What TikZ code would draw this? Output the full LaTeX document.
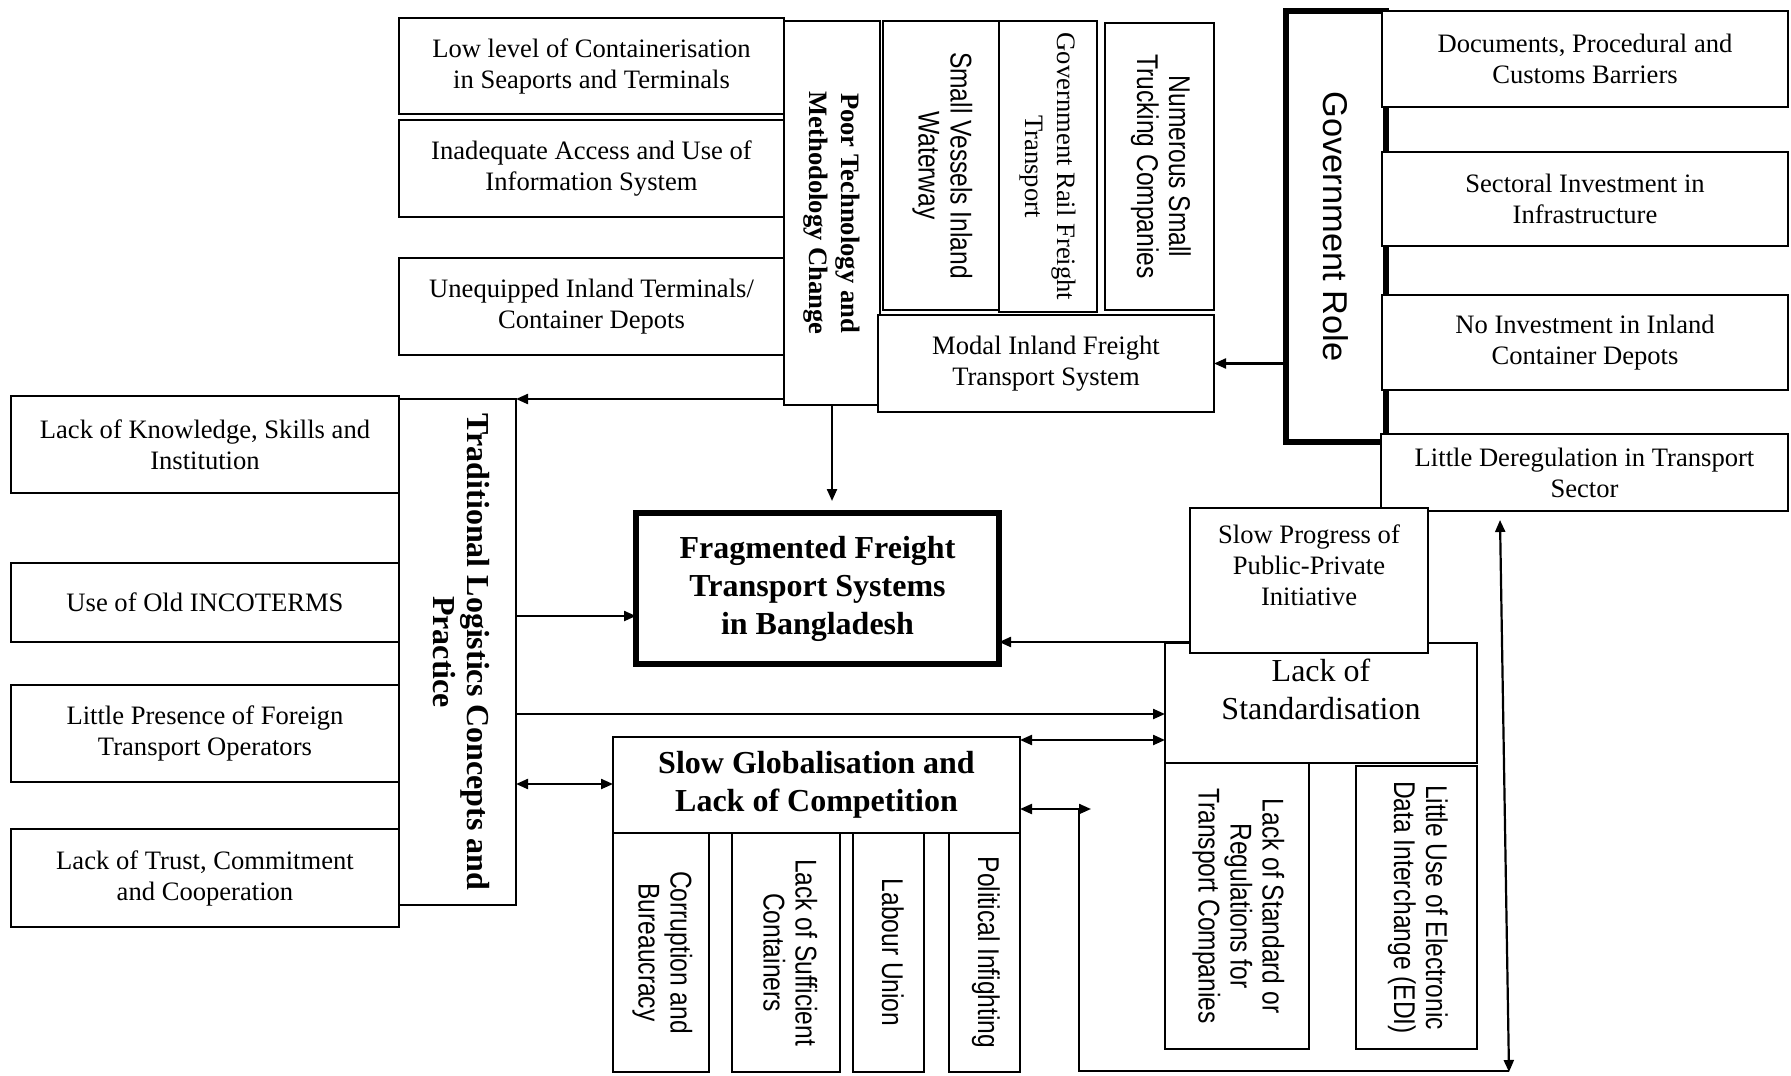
\documentclass[tikz,border=0pt]{standalone}
\usepackage{graphicx}
\usepackage{fontspec}
\setmainfont{Liberation Serif}
\newfontfamily\narrowsf[FakeStretch=0.82]{Liberation Sans}
\newfontfamily\plainsf{Liberation Sans}
\usetikzlibrary{arrows.meta}

% text set sideways, reading downwards
\newcommand\vlabel[1]{\rotatebox[origin=c]{-90}{\begin{tabular}{@{}c@{}}#1\end{tabular}}}
% box given by its corners (x1,y1) (x2,y2) in pixel units
\newcommand\pxbox[7]{%
  \node[#6, minimum width={(#4-#2)*0.5pt}, minimum height={(#5-#3)*0.5pt}]
    (#1) at ({(#2+#4)/2},{(#3+#5)/2}) {#7};}

\tikzset{
  box/.style={draw, line width=1.1pt, fill=white, inner sep=0pt, outer sep=0pt,
    align=center, font=\fontsize{13.3}{15.5}\selectfont},
  heavybox/.style={box, line width=2.6pt},
  vbold/.style={font=\bfseries\fontsize{13.3}{16}\selectfont},
  vsans/.style={font=\narrowsf\fontsize{15}{16}\selectfont},
  vserif/.style={font=\fontsize{13.3}{16}\selectfont},
  wire/.style={line width=1.1pt},
  link/.style={wire, -{Triangle[length=6pt,width=5pt]}},
  link2/.style={wire, {Triangle[length=6pt,width=5pt]}-{Triangle[length=6pt,width=5pt]}}
}

\begin{document}
\begin{tikzpicture}[x=0.5pt, y=-0.5pt]
\fill[white] (0,0) rectangle (1791,1075);
\useasboundingbox (0,0) rectangle (1791,1075);

% technology group
\pxbox{lowlevel}{399}{18}{784}{114}{box}{Low level of Containerisation\\in Seaports and Terminals}
\pxbox{infosys}{399}{120}{784}{217}{box}{Inadequate Access and Use of\\Information System}
\pxbox{terminals}{399}{258}{784}{355}{box}{Unequipped Inland Terminals/\\Container Depots}
\pxbox{poortech}{784}{21}{880}{405}{box,vbold}{\vlabel{Poor Technology and\\Methodology Change}}

% modal transport group
\pxbox{vessels}{883}{21}{999}{310}{box,vsans}{\vlabel{Small Vessels Inland\\Waterway}}
\pxbox{rail}{999}{21}{1097}{312}{box,vserif}{\vlabel{Government Rail Freight\\Transport}}
\pxbox{trucking}{1105}{23}{1214}{310}{box,vsans}{\vlabel{Numerous Small\\Trucking Companies}}
\pxbox{modal}{878}{315}{1214}{412}{box}{Modal Inland Freight\\Transport System}

% government group
\pxbox{govrole}{1286}{11}{1386}{442}{heavybox, font=\plainsf\fontsize{17.2}{20}\selectfont}{\rotatebox{-90}{Government Role}}
\pxbox{documents}{1382}{11}{1788}{107}{box}{Documents, Procedural and\\Customs Barriers}
\pxbox{sectoral}{1382}{152}{1788}{246}{box}{Sectoral Investment in\\Infrastructure}
\pxbox{noinvest}{1382}{295}{1788}{390}{box}{No Investment in Inland\\Container Depots}
\pxbox{dereg}{1381}{434}{1788}{511}{box}{Little Deregulation in Transport\\Sector}

% logistics practice group
\pxbox{traditional}{399}{399}{516}{905}{box, font=\bfseries\fontsize{16}{17}\selectfont}{\vlabel{Traditional Logistics Concepts and\\Practice}}
\pxbox{knowledge}{11}{396}{399}{493}{box}{Lack of Knowledge, Skills and\\Institution}
\pxbox{incoterms}{11}{563}{399}{642}{box}{Use of Old INCOTERMS}
\pxbox{foreign}{11}{685}{399}{782}{box}{Little Presence of Foreign\\Transport Operators}
\pxbox{trust}{11}{829}{399}{927}{box}{Lack of Trust, Commitment\\and Cooperation}

% central problem
\pxbox{fragmented}{636}{513}{999}{664}{heavybox, font=\bfseries\fontsize{16}{19}\selectfont}{Fragmented Freight\\Transport Systems\\in Bangladesh}

% standardisation group
\pxbox{lackstd}{1165}{643}{1477}{763}{box, text depth=14pt, font=\fontsize{16}{19}\selectfont}{Lack of\\Standardisation}
\pxbox{ppp}{1190}{508}{1428}{653}{box, text depth=15pt}{Slow Progress of\\Public-Private\\Initiative}
\pxbox{regulations}{1165}{763}{1309}{1049}{box,vsans}{\vlabel{Lack of Standard or\\Regulations for\\Transport Companies}}
\pxbox{edi}{1356}{766}{1477}{1049}{box,vsans}{\vlabel{Little Use of Electronic\\Data Interchange (EDI)}}

% globalisation group
\pxbox{globalisation}{613}{737}{1020}{833}{box, font=\bfseries\fontsize{16}{18.8}\selectfont}{Slow Globalisation and\\Lack of Competition}
\pxbox{corruption}{613}{833}{709}{1072}{box,vsans}{\vlabel{Corruption and\\Bureaucracy}}
\pxbox{containers}{732}{833}{840}{1072}{box,vsans}{\vlabel{Lack of Sufficient\\Containers}}
\pxbox{labour}{853}{833}{924}{1072}{box,vsans}{\vlabel{Labour Union}}
\pxbox{infighting}{949}{833}{1020}{1072}{box,vsans}{\vlabel{Political Infighting}}

% routing levels
\coordinate (fragIn) at ([yshift=-13.75pt]fragmented.west);
\coordinate (fragIn2) at ([yshift=-26.75pt]fragmented.east);
\coordinate (yA) at (0,714);
\coordinate (yB) at (0,740);
\coordinate (yC) at (0,784);
\coordinate (yD) at (0,809);
\coordinate (loopTurn) at (1091,809);
\coordinate (loopTop) at (1079,809);
\coordinate (loopFoot) at (1079,1071);
\coordinate (deregTop) at (1500,520);
\coordinate (deregFoot) at (1509,1072);

% connectors
\draw[link] (govrole.west |- modal.east) -- (modal.east);
\draw[link] (poortech.west |- traditional.north) -- (traditional.north east);
\draw[link, shorten >=6pt] (poortech.south) -- (poortech.south |- fragmented.north);
\draw[link] (traditional.east |- fragIn) -- (fragIn);
\draw[link] (ppp.west |- fragIn2) -- (fragIn2);
\draw[link] (traditional.east |- yA) -- (lackstd.west |- yA);
\draw[link2] (globalisation.east |- yB) -- (lackstd.west |- yB);
\draw[link2] (traditional.east |- yC) -- (globalisation.west |- yC);
\draw[link2] (globalisation.east |- yD) -- (loopTurn);
\draw[wire] (loopTop) -- (loopFoot) -- (loopFoot -| deregFoot);
\draw[link2] (deregTop) -- (deregFoot);
\end{tikzpicture}
\end{document}
